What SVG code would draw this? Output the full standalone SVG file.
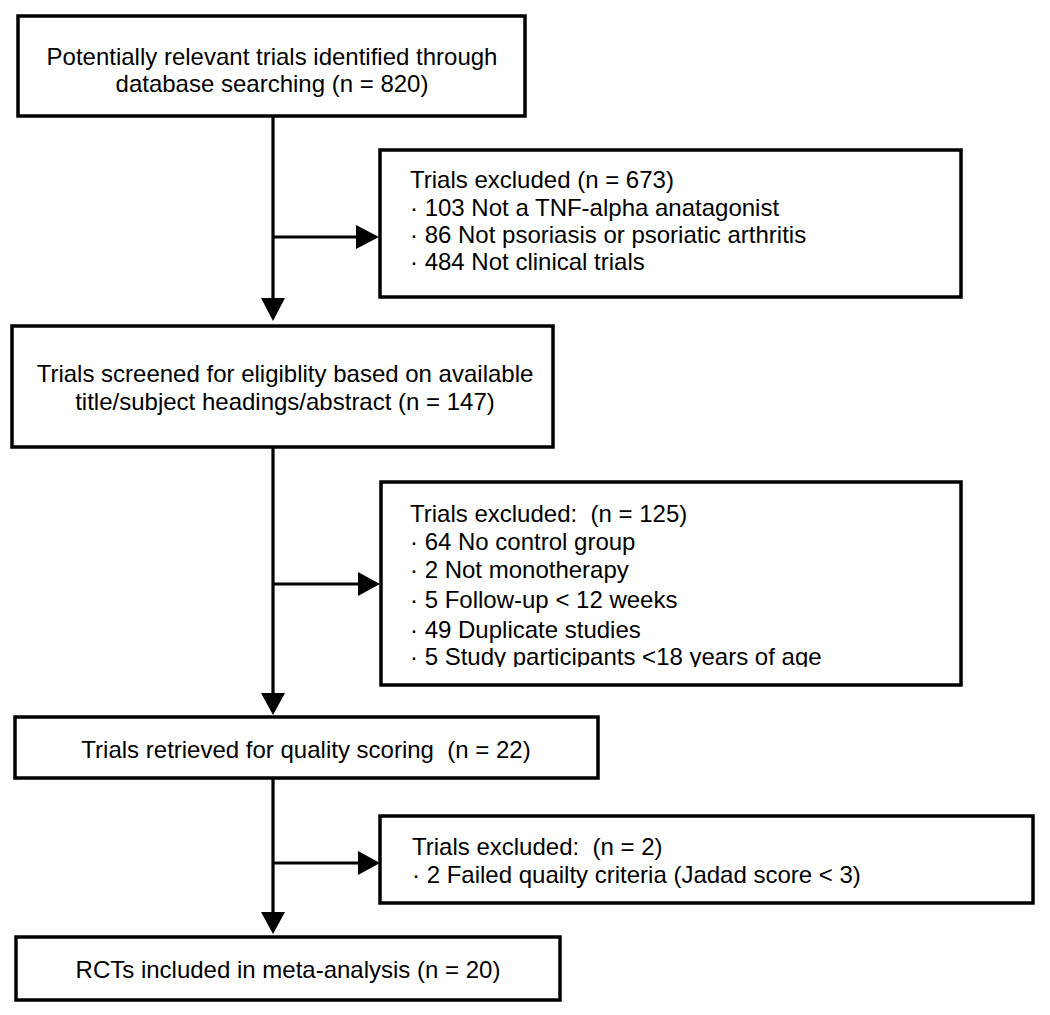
<svg xmlns="http://www.w3.org/2000/svg" width="1050" height="1015" viewBox="0 0 1050 1015">
<defs>
<style>
.box{fill:#fff;stroke:#000;stroke-width:3.5}
.ln{stroke:#000;stroke-width:3.2;fill:none}
.ah{fill:#000}
text{font-family:"Liberation Sans",Arial,sans-serif;font-size:24px;fill:#000;white-space:pre}
.c{text-anchor:middle}
</style>
<clipPath id="clipLast"><rect x="380" y="480" width="590" height="187"/></clipPath>
</defs>
<rect width="1050" height="1015" fill="#fff"/>
<g id="connectors">
<line class="ln" x1="273" y1="116" x2="273" y2="300"/>
<polygon class="ah" points="261,298 285,298 273,321"/>
<line class="ln" x1="273" y1="237" x2="358" y2="237"/>
<polygon class="ah" points="356,225 356,249 379,237"/>
<line class="ln" x1="273" y1="447" x2="273" y2="695"/>
<polygon class="ah" points="261,693 285,693 273,715"/>
<line class="ln" x1="273" y1="584" x2="360" y2="584"/>
<polygon class="ah" points="358,572 358,596 380,584"/>
<line class="ln" x1="273" y1="778" x2="273" y2="914"/>
<polygon class="ah" points="261,912 285,912 273,934"/>
<line class="ln" x1="273" y1="863" x2="360" y2="863"/>
<polygon class="ah" points="358,851 358,875 380,863"/>
</g>
<g id="n1">
<rect class="box" x="18" y="16" width="507" height="100"/>
<text class="c" x="272" y="65">Potentially relevant trials identified through</text>
<text class="c" x="272" y="92">database searching (n = 820)</text>
</g>
<g id="x1">
<rect class="box" x="380" y="150" width="581" height="147"/>
<text x="410" y="188">Trials excluded (n = 673)</text>
<text x="410" y="216">· 103 Not a TNF-alpha anatagonist</text>
<text x="410" y="243">· 86 Not psoriasis or psoriatic arthritis</text>
<text x="410" y="270">· 484 Not clinical trials</text>
</g>
<g id="n2">
<rect class="box" x="12" y="326" width="541" height="121"/>
<text class="c" x="285" y="382">Trials screened for eligiblity based on available</text>
<text class="c" x="285" y="410">title/subject headings/abstract (n = 147)</text>
</g>
<g id="x2">
<rect class="box" x="381" y="482" width="580" height="203"/>
<text x="410" y="522">Trials excluded:  (n = 125)</text>
<text x="410" y="550">· 64 No control group</text>
<text x="410" y="578">· 2 Not monotherapy</text>
<text x="410" y="608">· 5 Follow-up &lt; 12 weeks</text>
<text x="410" y="638">· 49 Duplicate studies</text>
<text x="410" y="665" clip-path="url(#clipLast)">· 5 Study participants &lt;18 years of age</text>
</g>
<g id="n3">
<rect class="box" x="15" y="717" width="583" height="61"/>
<text class="c" x="306" y="758">Trials retrieved for quality scoring  (n = 22)</text>
</g>
<g id="x3">
<rect class="box" x="380" y="816" width="653" height="87"/>
<text x="412" y="855">Trials excluded:  (n = 2)</text>
<text x="412" y="883">· 2 Failed quailty criteria (Jadad score &lt; 3)</text>
</g>
<g id="n4">
<rect class="box" x="16" y="937" width="544" height="63"/>
<text class="c" x="288" y="978">RCTs included in meta-analysis (n = 20)</text>
</g>
</svg>
